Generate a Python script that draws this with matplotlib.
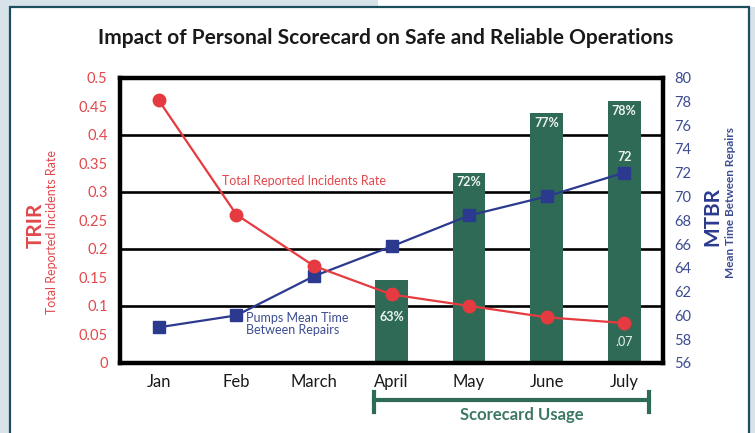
"""
Impact of Personal Scorecard on Safe and Reliable Operations
"""

import numpy as np
import matplotlib
matplotlib.use("Agg")
import matplotlib.pyplot as plt
from matplotlib.patches import Rectangle
from matplotlib.lines import Line2D
from matplotlib.ticker import FuncFormatter

plt.rcParams['font.family'] = ['Lato', 'DejaVu Sans']

# data
months = ['Jan', 'Feb', 'March', 'April', 'May', 'June', 'July']
trir = [0.46, 0.26, 0.17, 0.12, 0.10, 0.08, 0.07]
mtbr = [59.0, 60.0, 63.3, 65.8, 68.4, 70.0, 72.0]
usage_months = ['April', 'May', 'June', 'July']
usage_pct = [63, 72, 77, 78]
usage_labels = ['63%', '72%', '77%', '78%']
trir_ticks = np.arange(0, 0.501, 0.05)
mtbr_ticks = np.arange(56, 80.1, 2)

RED = '#e53b40'
RED_TXT = '#e2474b'
NAVY = '#2b3a8e'
NAVY_TXT = '#3c4c92'
GREEN = '#2e6a56'
GREEN_TXT = '#3d7866'

fig = plt.figure(figsize=(7.55, 4.33), dpi=100)
W, H = 755, 433

# background panel
fig.patches.append(Rectangle((0, 0), 1, 1, transform=fig.transFigure,
                             facecolor='#d7e2e9', edgecolor='none', zorder=-3))
fig.patches.append(Rectangle((378 / W, 1 - 7 / H), 1, 1, transform=fig.transFigure,
                             facecolor='white', edgecolor='none', zorder=-2))
fig.patches.append(Rectangle((10 / W, -0.05), 739 / W, 1.05 - 7 / H,
                             transform=fig.transFigure, facecolor='white',
                             edgecolor='#1d4e5e', linewidth=1.6, zorder=-1))

ax = fig.add_axes([120 / W, 1 - 363 / H, 543 / W, 285.5 / H])
ax2 = ax.twinx()
ax.patch.set_visible(False)

x = np.arange(len(months))
ax.set_xlim(-0.5, len(months) - 0.5)
ax.set_ylim(0, 0.5)
ax2.set_ylim(56, 80)

# grid lines (under bars)
for v in [0.1, 0.2, 0.3, 0.4]:
    ax.axhline(v, color='black', linewidth=1.9, zorder=0)

# scorecard usage bars on MTBR scale
bx = [months.index(m) for m in usage_months]
base = ax2.get_ylim()[0]
bars = ax2.bar(bx, np.array(usage_pct) - base, bottom=base, width=0.42,
               color=GREEN, zorder=1)
label_offsets = [-27, -7, -7, -7]
for xi, p, lab, off in zip(bx, usage_pct, usage_labels, label_offsets):
    ax2.annotate(lab, (xi, p), xytext=(0, off), textcoords='offset points',
                 ha='center', va='center', color='#eef4f0', fontsize=9,
                 fontweight='bold', zorder=5)

# lines
ax2.plot(x, mtbr, color=NAVY, linewidth=1.6, marker='s', markersize=9,
         zorder=3)
ax2.plot(x, trir, color=RED, linewidth=1.6, marker='o', markersize=9,
         transform=ax.transData, zorder=4)

ax2.annotate(f'{mtbr[-1]:g}', (x[-1], mtbr[-1]), xytext=(0, 11),
             textcoords='offset points', ha='center', va='center',
             color='#eef4f0', fontsize=9, fontweight='bold')
ax2.annotate(f'{trir[-1]:.2f}'.lstrip('0'), (x[-1], trir[-1]),
             xycoords=ax.transData, xytext=(0, -14),
             textcoords='offset points', ha='center', va='center',
             color='#eef4f0', fontsize=9)

ax.text(1.87, 0.318, 'Total Reported Incidents Rate', color=RED_TXT,
        fontsize=9, ha='center', va='center')
ax.text(1.12, 0.068, 'Pumps Mean Time\nBetween Repairs', color=NAVY_TXT,
        fontsize=9, ha='left', va='center', linespacing=0.95)

# frame
for s in ax.spines.values():
    s.set_visible(False)
for s in ax2.spines.values():
    s.set_linewidth(3.2)
    s.set_color('black')

ax.set_xticks(x)
ax.set_xticklabels(months)
ax.tick_params(axis='x', length=0, pad=8, labelsize=12, labelcolor='#1a1a1a')
ax.set_yticks(trir_ticks)
ax.yaxis.set_major_formatter(FuncFormatter(lambda v, p: f'{v:g}'))
ax.tick_params(axis='y', length=0, pad=9, labelsize=10.5, labelcolor=RED_TXT)
ax2.set_yticks(mtbr_ticks)
ax2.yaxis.set_major_formatter(FuncFormatter(lambda v, p: f'{v:g}'))
ax2.tick_params(axis='y', length=0, pad=8, labelsize=10.5, labelcolor=NAVY_TXT)

# scorecard usage bracket
tr = ax.get_xaxis_transform()
x0, x1 = 2.77, 6.32
ax.add_line(Line2D([x0, x1], [-0.13, -0.13], transform=tr, color=GREEN,
                   linewidth=3, clip_on=False))
for xe in (x0, x1):
    ax.add_line(Line2D([xe, xe], [-0.10, -0.17], transform=tr, color=GREEN,
                       linewidth=3, clip_on=False))
ax.text(4.68, -0.183, 'Scorecard Usage', transform=tr, color=GREEN_TXT,
        fontsize=12, fontweight='bold', ha='center', va='center')

# titles and axis labels
fig.text(386 / W, 1 - 38 / H,
         'Impact of Personal Scorecard on Safe and Reliable Operations',
         ha='center', va='center', fontsize=15, fontweight='bold',
         color='#1a1a1a')
fig.text(36 / W, 1 - 225 / H, 'TRIR', rotation=90, ha='center', va='center',
         fontsize=15, fontweight='bold', color=RED_TXT)
fig.text(52 / W, 1 - 232 / H, 'Total Reported Incidents Rate', rotation=90,
         ha='center', va='center', fontsize=9, color=RED_TXT)
fig.text(712 / W, 1 - 216 / H, 'MTBR', rotation=90, ha='center', va='center',
         fontsize=15, fontweight='bold', color=NAVY)
fig.text(731 / W, 1 - 203 / H, 'Mean Time Between Repairs', rotation=90,
         ha='center', va='center', fontsize=8.5, fontweight='bold',
         color=NAVY_TXT)

fig.savefig('out.png', dpi=100)
